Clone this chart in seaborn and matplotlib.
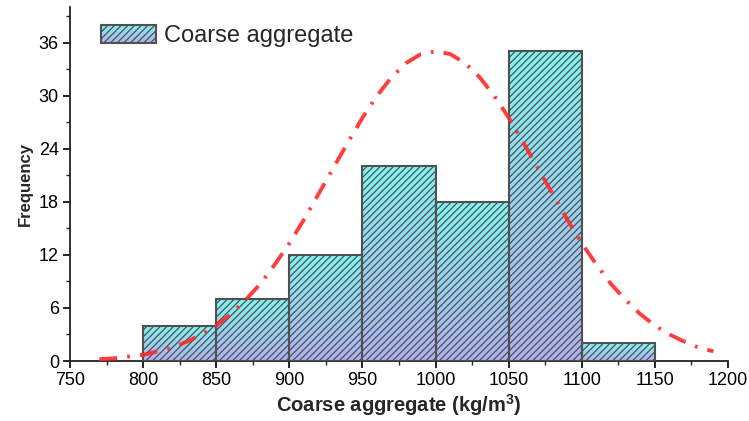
"""
Histogram of coarse aggregate content with a normal curve
"""

import numpy as np
import matplotlib
matplotlib.use('Agg')
import matplotlib.pyplot as plt
from matplotlib.colors import LinearSegmentedColormap
from matplotlib.ticker import MultipleLocator
import seaborn as sns

# Data
bin_edges = [800, 850, 900, 950, 1000, 1050, 1100, 1150]
bin_mids = [825, 875, 925, 975, 1025, 1075, 1125]
frequency = [4, 7, 12, 22, 18, 35, 2]

# Normal curve points
curve_x = [770, 780, 790, 800, 810, 820, 830, 840, 850, 860, 870, 880, 890,
           900, 910, 920, 930, 940, 950, 960, 970, 980, 990, 1000, 1010,
           1020, 1030, 1040, 1050, 1060, 1070, 1080, 1090, 1100, 1110, 1120,
           1130, 1140, 1150, 1160, 1170, 1180, 1190]
curve_y = [0.2, 0.3, 0.5, 0.7, 1.1, 1.5, 2.2, 3.0, 4.0, 5.3, 6.9, 8.7, 10.9,
           13.3, 16.0, 18.9, 21.8, 24.7, 27.5, 30.0, 32.1, 33.7, 34.7, 35.0,
           34.7, 33.7, 32.1, 30.0, 27.5, 24.7, 21.8, 18.9, 16.0, 13.3, 10.9,
           8.7, 6.9, 5.3, 4.0, 3.0, 2.2, 1.5, 1.1]

sns.set_theme(style="ticks")
plt.rcParams['font.family'] = ['Liberation Sans', 'DejaVu Sans']
plt.rcParams['hatch.linewidth'] = 0.9

grad_cmap = LinearSegmentedColormap.from_list('bar_grad', ['#b0b2f0', '#80f6f2'])
grad = np.linspace(0, 1, 256).reshape(-1, 1)

fig = plt.figure(figsize=(7.49, 4.21), dpi=100)
ax = fig.add_axes([0.0935, 0.1425, 0.8785, 0.8405])

sns.histplot(x=bin_mids, weights=frequency, bins=bin_edges, ax=ax,
             facecolor='none', edgecolor='#505050', linewidth=1.5,
             hatch='/////', label='Coarse aggregate', zorder=3)

# gradient fill behind each bar
for p in ax.patches:
    x0, y0 = p.get_x(), p.get_y()
    w, h = p.get_width(), p.get_height()
    ax.imshow(grad, extent=[x0, x0 + w, y0, y0 + h], origin='lower',
              cmap=grad_cmap, aspect='auto', zorder=2)

ax.plot(curve_x, curve_y, color='#ff2a2a', alpha=0.9, linewidth=2.8,
        linestyle=(0, (4.6, 2.6, 0.7, 2.6)), zorder=4)

ax.set_xlim(750, 1200)
ax.set_ylim(0, 40)
ax.xaxis.set_major_locator(MultipleLocator(50))
ax.xaxis.set_minor_locator(MultipleLocator(25))
ax.yaxis.set_major_locator(MultipleLocator(6))
ax.yaxis.set_minor_locator(MultipleLocator(3))
ax.tick_params(which='major', direction='out', length=5, width=1.2,
               labelsize=13, colors='black', pad=3)
ax.tick_params(which='minor', direction='out', length=3, width=1.0)
for s in ['left', 'bottom']:
    ax.spines[s].set_linewidth(1.3)
    ax.spines[s].set_color('#222222')
sns.despine(ax=ax)

ax.set_xlabel('Coarse aggregate (kg/m$^\\mathregular{3}$)', fontsize=14.5,
              fontweight='bold', labelpad=2)
ax.set_ylabel('Frequency', fontsize=12, fontweight='bold', labelpad=4)

leg = ax.legend(loc='upper left', bbox_to_anchor=(0.047, 0.95), frameon=False,
                fontsize=17, handlelength=2.35, handleheight=0.8,
                handletextpad=0.3, borderpad=0, borderaxespad=0)
handle = leg.legend_handles[0]
handle.set_facecolor('none')

# gradient behind the legend patch
fig.canvas.draw()
bb = handle.get_window_extent().transformed(ax.transAxes.inverted())
ax.imshow(grad, extent=[bb.x0, bb.x1, bb.y0, bb.y1], origin='lower',
          cmap=grad_cmap, aspect='auto', transform=ax.transAxes, zorder=4.9)
ax.set_xlim(750, 1200)
ax.set_ylim(0, 40)

fig.savefig('out.png', dpi=100)
plt.close(fig)
